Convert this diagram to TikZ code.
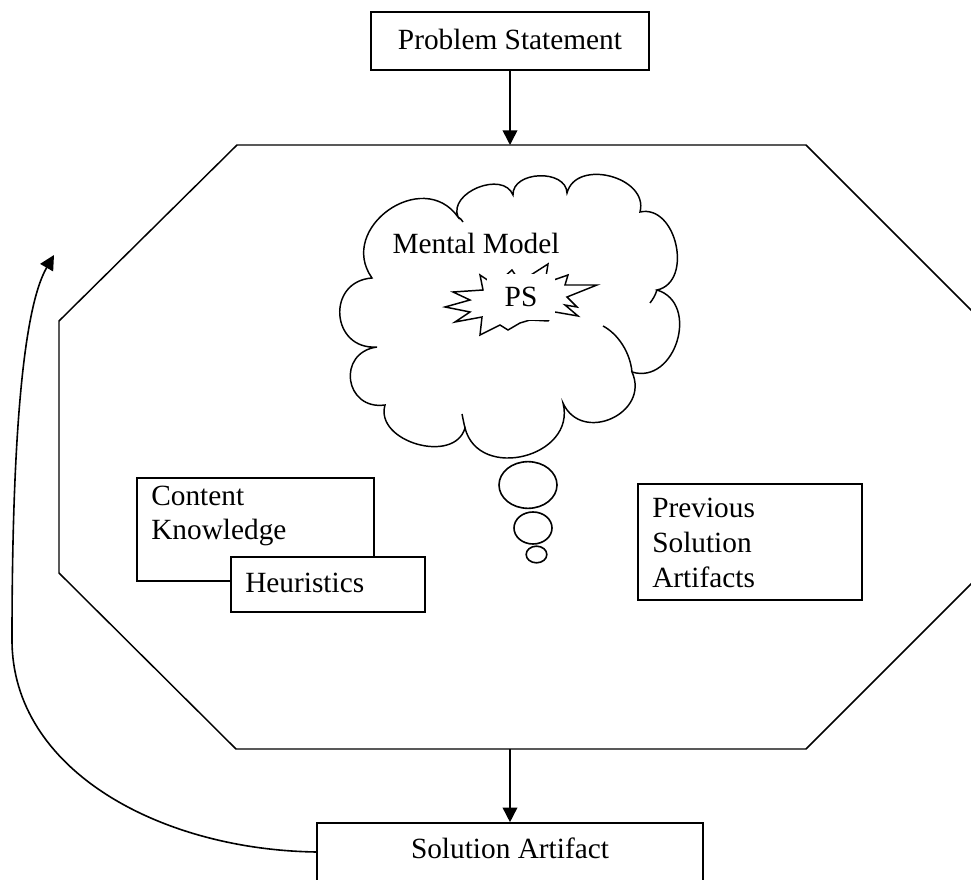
\documentclass[tikz,border=0pt]{standalone}
\usepackage{fontspec}
\setmainfont{Liberation Serif}
\usetikzlibrary{arrows.meta,shapes.geometric,fit,calc}
\begin{document}
\begin{tikzpicture}[x=0.75pt,y=-0.75pt,
  every node/.style={font=\fontsize{22}{26}\selectfont},
  box/.style={draw,line width=1.2pt,inner sep=0pt,fill=white},
  txt/.style={inner sep=0pt,anchor=west,align=left},
  arr/.style={-{Triangle[width=11pt,length=11pt]},line width=1.2pt},
  ln/.style={line width=1.1pt},
  bubble/.style={draw,ellipse,line width=1.2pt,inner sep=0pt,fill=white},
  cbump/.style n args={3}{insert path={.. controls ($(#1)!#3!90:(#2)$) and ($(#2)!#3!-90:(#1)$) .. (#2)}}]
\clip (0,0) rectangle (971,880);
% octagon
\coordinate (o1) at (237,145);
\coordinate (o2) at (806,145);
\coordinate (o3) at (984,323);
\coordinate (o4) at (984,571);
\coordinate (o5) at (806,749);
\coordinate (o6) at (236,749);
\coordinate (o7) at (59,573);
\coordinate (o8) at (59,321);
\draw[ln] (o1) -- (o2) -- (o3) -- (o4) -- (o5) -- (o6) -- (o7) -- (o8) -- cycle;
\coordinate (otop) at (510,145);
\coordinate (obot) at (510,749);
% boxes
\node[box,fit={(371,12) (649,70)}] (ps) {};
\node (pst) at (510,39) {Problem Statement};
\node[box,fit={(317,823) (703,900)}] (sa) {};
\node (sat) at (510,848) {Solution Artifact};
\node[box,fit={(137,478) (374,581)}] (ck) {};
\node[txt] (ckt) at (151,516) {Content\\Knowledge};
\node[box,fit={(231,557) (425,612)}] (heu) {};
\node[txt] (heut) at (245,583) {Heuristics};
\node[box,fit={(638,484) (862,600)}] (psa) {};
\node[txt] (psat) at (652,543) {Previous\\Solution\\Artifacts};
% arrows
\draw[arr] (ps.south) -- (ps.south |- otop);
\draw[arr] (obot) -- (obot |- sa.north);
\coordinate (fbs) at (317,852);
\coordinate (fbe) at (54,255);
\draw[arr] (fbs) .. controls (160,850) and (12,770) .. (12,640) .. controls (12,450) and (22,310) .. (fbe);
% cloud
\coordinate (A) at (372,278);
\coordinate (B) at (458,217);
\coordinate (C) at (513,195);
\coordinate (D) at (567,193);
\coordinate (E) at (640,212);
\coordinate (F) at (657,290);
\coordinate (G) at (632,372);
\coordinate (H) at (563,403);
\coordinate (I) at (465,428);
\coordinate (J) at (385,405);
\coordinate (K) at (377,347);
\draw[ln,fill=white] (A) [cbump={A}{B}{0.58}] [cbump={B}{C}{0.45}] [cbump={C}{D}{0.45}]
  [cbump={D}{E}{0.48}] [cbump={E}{F}{0.47}] [cbump={F}{G}{0.53}] [cbump={G}{H}{0.6}]
  [cbump={H}{I}{0.55}] [cbump={I}{J}{0.46}] [cbump={J}{K}{0.7}] [cbump={K}{A}{0.67}] -- cycle;
\draw[ln] (603,326) .. controls (618,334) and (630,352) .. (G);
\draw[ln] (I) .. controls (464,424) and (463,419) .. (462,414);
\draw[ln] (F) .. controls (655,296) and (653,299) .. (650,303);
\draw[ln] (B) .. controls (460,218) and (462,220) .. (463,222);
\node (mm) at (476,243) {Mental Model};
% starburst
\draw[ln] (445,307) -- (470,300) -- (453,292) -- (483,290) -- (480,275) -- (495,285)
  -- (512,270) -- (520,282) -- (548,264) -- (545,283) -- (568,275) -- (565,285)
  -- (597,285) -- (567,297) -- (577,307) -- (565,305) -- (578,316) -- (555,312)
  -- (548,321) -- (530,320) -- (520,323) -- (508,330) -- (500,325) -- (480,335)
  -- (482,317) -- (455,322) -- (470,312) -- cycle;
\node[fill=white,inner sep=0pt,minimum width=51pt,minimum height=34pt] (pstxt) at (521,297) {PS};
% thought bubbles
\node[bubble,minimum width=43.5pt,minimum height=35pt] (b1) at (528,485) {};
\node[bubble,minimum width=28.5pt,minimum height=24pt] (b2) at (533,528) {};
\node[bubble,minimum width=15.5pt,minimum height=12.5pt] (b3) at (536.5,554.5) {};
\end{tikzpicture}
\end{document}
